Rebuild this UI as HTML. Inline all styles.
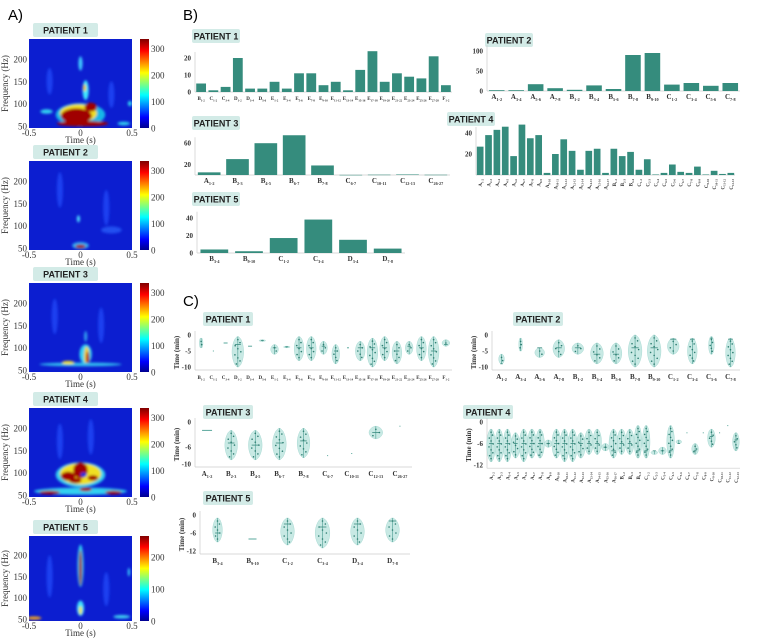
<!DOCTYPE html>
<html><head><meta charset="utf-8"><style>
body{margin:0;background:#fff}
svg{display:block;font-family:"Liberation Serif",serif}
.pl{font-family:"Liberation Sans",sans-serif;font-weight:bold;font-size:9px;fill:#222}
</style></head><body>
<svg id="fig" width="760" height="641" viewBox="0 0 760 641" xmlns="http://www.w3.org/2000/svg">
<defs>
<linearGradient id="jet" x1="0" y1="1" x2="0" y2="0">
<stop offset="0" stop-color="#00008f"/><stop offset="0.12" stop-color="#0000ff"/><stop offset="0.37" stop-color="#00ffff"/><stop offset="0.62" stop-color="#ffff00"/><stop offset="0.87" stop-color="#ff0000"/><stop offset="1" stop-color="#800000"/>
</linearGradient>
<filter id="bl" x="-50%" y="-50%" width="200%" height="200%"><feGaussianBlur stdDeviation="1.3"/></filter>
</defs>
<text x="8" y="20" font-family="Liberation Sans" font-size="15">A)</text>
<text x="183" y="20" font-family="Liberation Sans" font-size="15">B)</text>
<text x="183" y="306" font-family="Liberation Sans" font-size="15">C)</text>
</svg>
<script>
// ---------- Panel B bar data ----------
const p1Cats=["B1-2","C1-2","C3-4","D1-2","D3-4","D5-6","E1-2","E3-4","E5-6","E7-8","E9-10","E11-12","E13-14","E15-16","E17-18","E19-20","E21-22","E23-24","E25-26","E27-28","F1-2"];
const p1Vals=[5,1,3,20,2,2,6,2,11,11,4,6,1,13,24,6,11,9,8,21,4];
const p1Ticks=[0,10,20];
const p2Cats=["A1-2","A3-4","A5-6","A7-8","B1-2","B3-4","B5-6","B7-8","B9-10","C1-2","C3-4","C5-6","C7-8"];
const p2Vals=[2,2,17,7,3,14,5,90,95,16,20,13,20];
const p2Ticks=[0,50,100];
const p3Cats=["A1-2","B2-3","B4-5","B6-7","B7-8","C6-7","C10-11","C12-13","C26-27"];
const p3Vals=[5,30,60,75,18,0.3,0.6,1,0.5];
const p3Ticks=[20,60];
const p4Cats=["A1-2","A2-3","A3-4","A4-5","A5-6","A6-7","A7-8","A8-9","A9-10","A10-11","A11-12","A12-13","A13-14","A14-15","A15-16","A16-17","B1-2","B2-3","B3-4","C1-2","C2-3","C3-4","C4-5","C5-6","C6-7","C7-8","C8-9","C9-10","C10-11","C11-12","C12-13"];
const p4Vals=[27,38,43,46,18,48,35,38,2,20,34,23,5,23,25,2,25,18,22,5,15,0.5,2,10,3,2,8,0.5,4,1,2];
const p4Ticks=[20,40];
const p5Cats=["B3-4","B9-10","C1-2","C3-4","D3-4","D7-8"];
const p5Vals=[4,2,17,38,15,5];
const p5Ticks=[0,20,40];
// ---------- Panel C violin data (min) ----------
const v1Top=[-1,-5,-2.5,-0.5,-3.5,-1.5,-3,-3.5,-0.5,-0.5,-2,-3,-4,-2,-1,-0.5,-2,-2,-0.5,-0.5,-1.5];
const v1Bot=[-4,-5,-2.5,-10,-3.5,-2,-6,-4,-8,-8,-6,-9,-4,-8,-10,-8,-9,-6,-8,-10,-3.5];
const v1Wid=[2,1,4,10,4,5,6,5,8,8,6,6,2,8,9,8,8,6,8,9,6];
const v1Med=[-2,-5,-2.5,-3,-3.5,-1.7,-4,-3.7,-4,-4,-3.5,-5,-4,-4,-4,-4,-5,-3.5,-4,-5,-3];
const v2Top=[-6,-1,-4,-1.5,-2.5,-2.5,-2.5,0,0,-1,-1,-0.5,-1];
const v2Bot=[-9,-5,-7,-7,-6,-9,-9,-10,-10,-6,-9,-6,-10];
const v2Wid=[4,2,8,10,10,11,10,12,12,10,8,4,8];
const v2Med=[-9,-3,-4,-4,-4,-6,-6,-4,-4,-1.3,-1.3,-1,-1.3];
const v3Top=[-2,-2,-2,-1.5,-1.5,-8,-7.5,-1,-1];
const v3Bot=[-2,-9,-9,-9,-8.5,-8,-7.5,-4,-1];
const v3Wid=[10,11,12,12,11,1,1,12,1];
const v3Med=[-2,-5,-5.5,-5,-4.5,-8,-7.5,-2.5,-1];
const v4Top=[-2,-2,-2,-3,-2,-2,-2,-5,-2,-2,-2,-3,-2,-2,-6,-2,-2,-2,-1,-1,-8,-7,-1,-5,-3,-6,-3,-2,-3,-1,-3];
const v4Bot=[-11,-11,-11,-10,-11,-10,-10,-7,-10,-11,-11,-10,-9,-9,-8,-10,-9,-9,-10,-10,-9,-9,-10,-6,-3,-9,-3,-7,-3,-1,-8];
const v4Wid=[7,7,7,7,8,7,7,6,8,8,8,8,7,7,6,8,7,7,6,6,5,6,6,4,1,5,1,6,1,1,5];
const v4Med=[-6,-6,-6,-6,-6,-6,-6,-6,-6,-6,-6,-6,-6,-6,-7,-8,-6,-6,-8,-8,-8,-8,-8,-6,-3,-8,-3,-4,-3,-1,-5];
const v5Top=[-1,-8,-1,-1,-1,-1];
const v5Bot=[-9,-8,-10,-11,-10,-9];
const v5Wid=[8,8,12,13,12,12];
const v5Med=[-6,-8,-3,-4,-3,-2];
// ---------- Panel A spectrogram blobs [t(s), f(Hz), rt, rf, colour] ----------
const hm1=[[-0.3,150,0.03,30,"#1a40f0"],[0.3,120,0.03,30,"#1a40f0"],[0,75,0.24,26,"#19b8e8"],[0.05,130,0.03,22,"#40e8ff"],[0.04,135,0.015,8,"#f0c020"],[0,190,0.02,16,"#40c8ff"],[-0.02,78,0.18,20,"#f0e020"],[-0.04,72,0.15,17,"#a00000"],[0.1,92,0.06,10,"#a00000"],[0.02,55,0.25,6,"#a00000"],[-0.33,82,0.06,5,"#30d0f0"],[0.42,55,0.06,4,"#30d0f0"],[0.48,100,0.02,6,"#30d0f0"]];
const hm2=[[-0.2,180,0.03,40,"#1a40f0"],[0.25,140,0.03,40,"#1a40f0"],[0,55,0.08,8,"#30b0f0"],[0,53,0.05,4,"#a00000"],[-0.02,115,0.015,8,"#50e0ff"],[0.3,90,0.1,8,"#2050f0"]];
const hm3=[[-0.25,170,0.03,40,"#1a40f0"],[0.2,150,0.03,40,"#1a40f0"],[0.05,85,0.06,22,"#30d0f0"],[0.06,80,0.025,22,"#f0d020"],[0.07,75,0.015,16,"#b00000"],[0,62,0.4,4,"#30c0f0"],[-0.12,66,0.06,4,"#f0e020"],[0.05,125,0.015,12,"#30a0f0"]];
const hm4=[[0.1,180,0.03,40,"#1a40f0"],[-0.2,170,0.03,40,"#1a40f0"],[0,95,0.24,28,"#30d0f0"],[0,97,0.2,24,"#f0e020"],[-0.12,92,0.07,10,"#a00000"],[0,105,0.07,18,"#a00000"],[0.12,88,0.05,6,"#a00000"],[-0.05,82,0.06,6,"#a00000"],[0,58,0.45,8,"#30d0f0"],[-0.3,55,0.1,4,"#a00000"],[0.05,62,0.06,4,"#a00000"],[0.32,55,0.08,4,"#a00000"],[0.03,95,0.03,5,"#1030e0"]];
const hm5=[[-0.3,150,0.03,50,"#1a40f0"],[0.25,120,0.03,40,"#1a40f0"],[0,175,0.03,50,"#30d0f0"],[0,170,0.015,42,"#a00000"],[0,75,0.035,18,"#40e0ff"],[0,70,0.015,10,"#f0e020"],[-0.45,52,0.07,4,"#f0a020"],[0.4,55,0.08,4,"#40d0f0"],[0.47,160,0.01,10,"#40e0ff"]];

const svg=document.getElementById('fig');
const NS='http://www.w3.org/2000/svg';
function mk(tag,at,par){const e=document.createElementNS(NS,tag);for(const k in at)e.setAttribute(k,at[k]);(par||svg).appendChild(e);return e;}
function txt(x,y,s,at,par){const e=mk('text',Object.assign({x:x,y:y},at||{}),par);e.textContent=s;return e;}
function plabel(x,y,w,s,name){
 const g=mk('g',{});
 mk('rect',{x:x,y:y,width:w,height:14,rx:2,fill:'#d3ebe7'},g);
 txt(x+w/2,y+10.5,s,{'class':'pl','text-anchor':'middle'},g);
}
function subLabel(g,x,y,s,fs,rot){
 const t=mk('text',{x:x,y:y,'font-size':fs,'text-anchor':'middle','font-weight':'bold',fill:'#333'},g);
 if(rot)t.setAttribute('transform','rotate(-90 '+x+' '+y+')'),t.setAttribute('text-anchor','end');
 const a=document.createElementNS(NS,'tspan');a.textContent=s[0];t.appendChild(a);
 const b=document.createElementNS(NS,'tspan');b.textContent=s.slice(1);b.setAttribute('font-size',fs*0.6);b.setAttribute('dy',fs*0.25);t.appendChild(b);
}
function barChart(name,cats,vals,ticks,x0,x1,yZ,ppu,fs,rot){
 const g=mk('g',{});
 const band=(x1-x0)/cats.length;
 const ys=v=>yZ-v*ppu;
 const top=ys(Math.max(...ticks))-6;
 mk('line',{x1:x0,y1:top,x2:x0,y2:yZ,stroke:'#ccc','stroke-width':0.7},g);
 mk('line',{x1:x0,y1:yZ,x2:x1,y2:yZ,stroke:'#ccc','stroke-width':0.7},g);
 ticks.forEach(t=>{txt(x0-4,ys(t)+2.5,String(t),{'font-size':7,'font-weight':'bold','text-anchor':'end',fill:'#333'},g);});
 cats.forEach((c,i)=>{
  const r=mk('rect',{x:x0+i*band+band*0.1,y:ys(vals[i]),width:band*0.8,height:Math.max(0.5,vals[i]*ppu),fill:'#358c7d'},g);
  
  const cx=x0+i*band+band/2;
  if(rot)subLabel(g,cx+2,yZ+4,c,5,true);else subLabel(g,cx,yZ+8,c,fs);
 });
}
function violin(name,cats,tops,bots,wids,meds,ticks,x0,x1,y0,ppu,fs,rot){
 const g=mk('g',{});
 const band=(x1-x0)/cats.length;
 const ys=v=>y0-v*ppu;
 const bot=ys(Math.min(...ticks))+3;
 mk('line',{x1:x0,y1:ys(0)-4,x2:x0,y2:bot,stroke:'#ccc','stroke-width':0.7},g);
 mk('line',{x1:x0,y1:bot,x2:x1,y2:bot,stroke:'#ccc','stroke-width':0.7},g);
 ticks.forEach(t=>{txt(x0-4,ys(t)+2.5,String(t),{'font-size':7,'font-weight':'bold','text-anchor':'end',fill:'#333'},g);});
 txt(0,0,'Time (min)',{'font-size':7,'font-weight':'bold','text-anchor':'middle',fill:'#333',transform:'translate('+(x0-16)+','+((ys(0)+bot)/2)+') rotate(-90)'},g);
 cats.forEach((c,i)=>{
  const cx=x0+i*band+band/2, a=ys(tops[i]), b=ys(bots[i]), hw=Math.min(wids[i],band*0.9)/2;
  const p=mk('g',{},g);
  if(b-a<1.5){mk('line',{x1:cx-hw,y1:a,x2:cx+hw,y2:a,stroke:'#5aa89c','stroke-width':1},p);}
  else{
   let L=[],R=[];for(let k=0;k<=12;k++){const t=k/12,y=a+t*(b-a),w=hw*Math.pow(Math.sin(Math.PI*t),0.6)+0.8;L.push((cx-w)+','+y);R.unshift((cx+w)+','+y);}
   mk('polygon',{points:L.concat(R).join(' '),fill:'#c8e9e4',stroke:'#a9dbd4','stroke-width':0.5},p);
   mk('line',{x1:cx,y1:a,x2:cx,y2:b,stroke:'#4a9c90','stroke-width':0.6},p);
   mk('line',{x1:cx-hw*0.6,y1:ys(meds[i]),x2:cx+hw*0.6,y2:ys(meds[i]),stroke:'#3c8c80','stroke-width':0.8},p);
   const n=Math.round((b-a)/3);for(let k=1;k<n;k++){const t=k/n,w=hw*Math.pow(Math.sin(Math.PI*t),0.6);mk('circle',{cx:cx+w*((k%3)-1)*0.6,cy:a+t*(b-a),r:0.8,fill:'#2e7e72'},p);}
  }
  if(rot)subLabel(g,cx+2,bot+4,c,5,true);else subLabel(g,cx,bot+9,c,fs);
 });
}
function heat(name,blobs,x0,y0,w,h,cmax,cticks){
 const g=mk('g',{});
 const cid='cl'+name;const cp=mk('clipPath',{id:cid},g);mk('rect',{x:x0,y:y0,width:w,height:h},cp);
 const tx=t=>x0+(t+0.5)/1*w, fy=f=>y0+h-(f-45)/(245-45)*h;
 const inner=mk('g',{'clip-path':'url(#'+cid+')'},g);
 mk('rect',{x:x0,y:y0,width:w,height:h,fill:'#0c1ed0'},inner);
 const bg=mk('g',{filter:'url(#bl)'},inner);
 blobs.forEach(b=>{mk('ellipse',{cx:tx(b[0]),cy:fy(b[1]),rx:b[2]*w,ry:b[3]*h/200,fill:b[4]},bg);});
 [200,150,100,50].forEach(f=>{txt(x0-2,fy(f)+3.5,String(f),{'font-size':9,'text-anchor':'end',fill:'#333'},g);});
 txt(0,0,'Frequency (Hz)',{'font-size':9,'text-anchor':'middle',fill:'#333',transform:'translate('+(x0-21)+','+(y0+h/2)+') rotate(-90)'},g);
 [-0.5,0,0.5].forEach(t=>{txt(tx(t),y0+h+8,String(t),{'font-size':9,'text-anchor':'middle',fill:'#333'},g);});
 txt(x0+w/2,y0+h+15,'Time (s)',{'font-size':9,'text-anchor':'middle',fill:'#333'},g);
 const cb=mk('rect',{x:x0+w+8,y:y0,width:9,height:h,fill:'url(#jet)'},g);
 cticks.forEach(c=>{txt(x0+w+19,y0+h-c/cmax*h+3.5,String(c),{'font-size':9,fill:'#333'},g);});
}
// Panel A
const HX=29,HW=103,HH=89;
const hTops=[39,161,283,408,536];
[hm1,hm2,hm3,hm4,hm5].forEach((hm,i)=>{
 plabel(33,hTops[i]-16,65,'PATIENT '+(i+1),'heatmap-title-p'+(i+1));
 if(i<4)heat('spectrogram-p'+(i+1),hm,HX,hTops[i],HW,HH,335,[300,200,100,0]);
 else heat('spectrogram-p5',hm,HX,hTops[i],HW,85,265,[200,100,0]);
});
// Panel B
plabel(192,29,48,'PATIENT 1','bar-title-p1');
barChart('bar-chart-p1',p1Cats,p1Vals,p1Ticks,195,452,92,1.7,5);
plabel(485,33,48,'PATIENT 2','bar-title-p2');
barChart('bar-chart-p2',p2Cats,p2Vals,p2Ticks,487,740,91,0.4,7);
plabel(192,116,48,'PATIENT 3','bar-title-p3');
barChart('bar-chart-p3',p3Cats,p3Vals,p3Ticks,195,450,175,0.53,7);
plabel(447,112,48,'PATIENT 4','bar-title-p4');
barChart('bar-chart-p4',p4Cats,p4Vals,p4Ticks,476,735,175,1.05,5,true);
plabel(192,192,48,'PATIENT 5','bar-title-p5');
barChart('bar-chart-p5',p5Cats,p5Vals,p5Ticks,197,405,253,0.88,7);
// Panel C
plabel(203,312,50,'PATIENT 1','violin-title-p1');
violin('violin-chart-p1',p1Cats,v1Top,v1Bot,v1Wid,v1Med,[0,-5,-10],195,452,335,3.2,5);
plabel(513,312,50,'PATIENT 2','violin-title-p2');
violin('violin-chart-p2',p2Cats,v2Top,v2Bot,v2Wid,v2Med,[0,-5,-10],492,740,335,3.2,7);
plabel(203,405,50,'PATIENT 3','violin-title-p3');
violin('violin-chart-p3',p3Cats,v3Top,v3Bot,v3Wid,v3Med,[0,-6,-10],195,412,422,4.2,7);
plabel(463,405,50,'PATIENT 4','violin-title-p4');
violin('violin-chart-p4',p4Cats,v4Top,v4Bot,v4Wid,v4Med,[0,-6,-12],487,740,422,3.6,5,true);
plabel(203,491,50,'PATIENT 5','violin-title-p5');
violin('violin-chart-p5',p5Cats,v5Top,v5Bot,v5Wid,v5Med,[0,-6,-12],200,410,515,3,7);
</script>
</body></html>
